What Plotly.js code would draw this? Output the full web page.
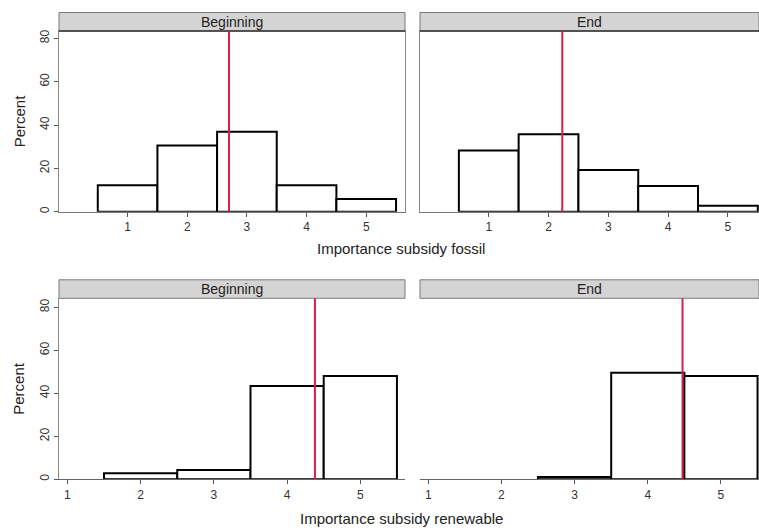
<!DOCTYPE html>
<html><head><meta charset="utf-8">
<script src="https://cdn.plot.ly/plotly-3.0.1.min.js"></script>
<style>html,body{margin:0;padding:0;background:#fff}#chart{width:759px;height:528px}</style>
</head><body><div id="chart"></div>
<script>
// ---- data ----
const categories = [1, 2, 3, 4, 5];
const panelTitles = ["Beginning", "End", "Beginning", "End"];
const fossilBeginning = [12.2, 30.6, 36.9, 12.2, 5.9];
const fossilEnd = [28.3, 35.8, 19.2, 11.9, 2.8];
const renewableBeginning = [null, 2.8, 4.3, 43.4, 48.1];
const renewableEnd = [null, null, 1.1, 49.6, 48.1];
const means = [2.70, 2.23, 4.38, 4.475];
const yTickVals = [0, 20, 40, 60, 80];
const xTitles = ["Importance subsidy fossil", "Importance subsidy renewable"];
const yTitle = "Percent";

// ---- layout geometry (pixels) ----
const W = 759, H = 528;
const fx = p => p / W, fy = p => 1 - p / H;
const panels = [
  {x0: 59,  x1: 405, y0: 31,    y1: 211.7, xr: [-0.15, 5.65], yr: [0, 83.4], top: true,  left: true},
  {x0: 420, x1: 759, y0: 31,    y1: 211.7, xr: [-0.15, 5.52], yr: [0, 83.4], top: true,  left: false},
  {x0: 59,  x1: 405, y0: 298.3, y1: 479.3, xr: [0.885, 5.61], yr: [0, 84.2], top: false, left: true},
  {x0: 420, x1: 759, y0: 298.3, y1: 479.3, xr: [0.887, 5.52], yr: [0, 84.2], top: false, left: false}
];
const series = [fossilBeginning, fossilEnd, renewableBeginning, renewableEnd];
const stripH = 18.5;
const FONT = "Liberation Sans, Arial, sans-serif";

const traces = [];
const layout = {
  width: W, height: H,
  margin: {l: 0, r: 0, t: 0, b: 0},
  paper_bgcolor: "#ffffff", plot_bgcolor: "#ffffff",
  showlegend: false, hovermode: false,
  font: {family: FONT, size: 12, color: "#333"},
  shapes: [], annotations: []
};

panels.forEach((p, i) => {
  const n = i === 0 ? "" : String(i + 1);
  traces.push({
    type: "bar", x: categories, y: series[i], width: 1,
    xaxis: "x" + n, yaxis: "y" + n,
    marker: {color: "#ffffff", line: {color: "#000000", width: 2}}
  });
  layout["xaxis" + n] = {
    domain: [fx(p.x0), fx(p.x1)], range: p.xr, anchor: "y" + n,
    tickvals: categories, ticks: "outside", ticklen: 4, tickcolor: "#555", tickwidth: 1,
    showline: true, linecolor: p.top ? "#777" : "#666", linewidth: 1, mirror: p.top ? true : false,
    showgrid: false, zeroline: false, fixedrange: true,
    tickfont: {family: FONT, size: 12, color: "#333"}
  };
  layout["yaxis" + n] = {
    domain: [fy(p.y1), fy(p.y0)], range: p.yr, anchor: "x" + n,
    tickvals: p.left ? yTickVals : [], ticks: p.left ? "outside" : "", ticklen: 4, tickcolor: "#555",
    showticklabels: p.left, tickangle: -90,
    showline: p.top || p.left, linecolor: "#888", linewidth: 1, mirror: p.top ? true : false,
    showgrid: false, zeroline: false, fixedrange: true,
    tickfont: {family: FONT, size: 12, color: "#333"}
  };
  // strip
  const sy0 = p.y0 - stripH;
  layout.shapes.push({
    type: "rect", xref: "paper", yref: "paper",
    x0: fx(p.x0), x1: fx(p.x1), y0: fy(p.y0), y1: fy(sy0),
    fillcolor: "#d4d4d4", line: {color: "#7a7a7a", width: 1}, layer: "above"
  });
  if (p.top) {
    layout.shapes.push({
      type: "line", xref: "paper", yref: "paper",
      x0: fx(p.x0), x1: fx(p.x1), y0: fy(p.y0), y1: fy(p.y0),
      line: {color: "#333", width: 1.5}, layer: "above"
    });
  }
  layout.annotations.push({
    xref: "paper", yref: "paper", x: fx((p.x0 + Math.min(p.x1, p.x0 + 346)) / 2), y: fy(p.y0 - stripH / 2),
    text: panelTitles[i], showarrow: false, xanchor: "center", yanchor: "middle",
    font: {family: FONT, size: 14, color: "#222"}
  });
  // mean line
  layout.shapes.push({
    type: "line", xref: "x" + n, yref: "y" + n + " domain",
    x0: means[i], x1: means[i], y0: 0, y1: 1,
    line: {color: "#d81e49", width: 2}, layer: "above"
  });
});

// y titles
[[31, 211.7], [298.3, 479.3]].forEach(r => {
  layout.annotations.push({
    xref: "paper", yref: "paper", x: fx(19), y: fy((r[0] + r[1]) / 2),
    text: yTitle, textangle: -90, showarrow: false, xanchor: "center", yanchor: "middle",
    font: {family: FONT, size: 15, color: "#222"}
  });
});
// x titles
layout.annotations.push({
  xref: "paper", yref: "paper", x: fx(401), y: fy(248), text: xTitles[0],
  showarrow: false, xanchor: "center", yanchor: "middle", font: {family: FONT, size: 15, color: "#222"}
});
layout.annotations.push({
  xref: "paper", yref: "paper", x: fx(401), y: fy(518), text: xTitles[1],
  showarrow: false, xanchor: "center", yanchor: "middle", font: {family: FONT, size: 15, color: "#222"}
});

Plotly.newPlot("chart", traces, layout, {displayModeBar: false, staticPlot: true});
</script>
</body></html>
